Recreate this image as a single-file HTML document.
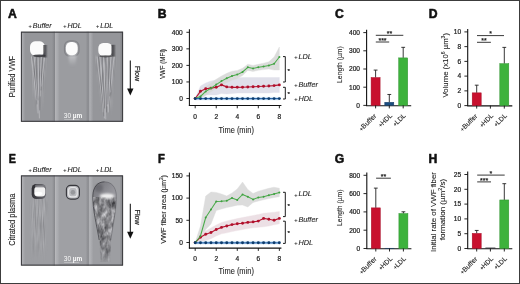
<!DOCTYPE html>
<html><head><meta charset="utf-8"><style>
html,body{margin:0;padding:0;background:#fff;width:520px;height:284px;overflow:hidden;}
svg{display:block;will-change:transform;}
text{stroke:#1e1e1e;stroke-width:0.22px;}
text.w{stroke:none;}
text.lt{stroke-width:0.1px;}
text.big{stroke:#111;stroke-width:0.55px;stroke-linejoin:round;}
</style></head><body>
<svg width="520" height="284" viewBox="0 0 520 284" font-family="Liberation Sans, sans-serif">
<defs>
<filter id="b03" x="-50%" y="-50%" width="200%" height="200%"><feGaussianBlur stdDeviation="0.3"/></filter>
<filter id="b05" x="-50%" y="-50%" width="200%" height="200%"><feGaussianBlur stdDeviation="0.5"/></filter>
<filter id="b08" x="-50%" y="-50%" width="200%" height="200%"><feGaussianBlur stdDeviation="0.8"/></filter>
<filter id="b12" x="-50%" y="-50%" width="200%" height="200%"><feGaussianBlur stdDeviation="1.2"/></filter>
<filter id="b2" x="-50%" y="-50%" width="200%" height="200%"><feGaussianBlur stdDeviation="2"/></filter>
<filter id="streakA" x="0" y="0" width="100%" height="100%" color-interpolation-filters="sRGB"><feTurbulence type="fractalNoise" baseFrequency="0.9 0.05" numOctaves="2" seed="7"/>
 <feColorMatrix type="matrix" values="0.8 0 0 0 0.23  0.8 0 0 0 0.23  0.8 0 0 0 0.245  0 0 0 0 1"/></filter>
<filter id="streakB" x="0" y="0" width="100%" height="100%" color-interpolation-filters="sRGB"><feTurbulence type="fractalNoise" baseFrequency="0.9 0.05" numOctaves="2" seed="11"/>
 <feColorMatrix type="matrix" values="0.8 0 0 0 0.23  0.8 0 0 0 0.23  0.8 0 0 0 0.245  0 0 0 0 1"/></filter>
<filter id="mottle" x="0" y="0" width="100%" height="100%" color-interpolation-filters="sRGB"><feTurbulence type="fractalNoise" baseFrequency="0.2 0.11" numOctaves="3" seed="4"/>
 <feColorMatrix type="matrix" values="0.95 0 0 0 0.06  0.95 0 0 0 0.06  0.95 0 0 0 0.075  0 0 0 0 1"/></filter>
<linearGradient id="edgeL" x1="0" x2="1" y1="0" y2="0"><stop offset="0" stop-color="#c4c5c9" stop-opacity="0.55"/><stop offset="1" stop-color="#c4c5c9" stop-opacity="0"/></linearGradient>
<linearGradient id="edgeR" x1="0" x2="1" y1="0" y2="0"><stop offset="0" stop-color="#6e6f74" stop-opacity="0"/><stop offset="1" stop-color="#6e6f74" stop-opacity="0.5"/></linearGradient>
<linearGradient id="shR" x1="0" x2="1" y1="0" y2="0"><stop offset="0" stop-color="#38383c" stop-opacity="0.9"/><stop offset="0.55" stop-color="#48484c" stop-opacity="0.7"/><stop offset="1" stop-color="#606064" stop-opacity="0"/></linearGradient>
<linearGradient id="bufE" x1="0" x2="1" y1="0" y2="0.3"><stop offset="0" stop-color="#2c2c30"/><stop offset="0.5" stop-color="#3e3e43"/><stop offset="1" stop-color="#606066"/></linearGradient>
<linearGradient id="tailH" x1="0" x2="0" y1="0" y2="1"><stop offset="0" stop-color="#c8c9cd" stop-opacity="0.9"/><stop offset="1" stop-color="#c8c9cd" stop-opacity="0"/></linearGradient>
<linearGradient id="fadeV" x1="0" x2="0" y1="0" y2="1"><stop offset="0" stop-color="#fff" stop-opacity="1"/><stop offset="0.7" stop-color="#fff" stop-opacity="0.8"/><stop offset="1" stop-color="#fff" stop-opacity="0"/></linearGradient>
<mask id="mBufA"><path d="M31 55 L46 55 L42.5 112 L35 112 Z" fill="url(#fadeV)" filter="url(#b12)"/></mask>
<mask id="mLdlA"><path d="M95.5 56 L115.5 56 L110.5 119 L102.5 119 Z" fill="url(#fadeV)" filter="url(#b12)"/></mask>
<mask id="mBufE"><path d="M30.5 198 L47 198 L45 262 L32 262 Z" fill="url(#fadeV)" filter="url(#b12)"/></mask>
<linearGradient id="fadeL" x1="0" x2="0" y1="0" y2="1"><stop offset="0" stop-color="#fff"/><stop offset="0.62" stop-color="#fff"/><stop offset="1" stop-color="#fff" stop-opacity="0.35"/></linearGradient>
<mask id="mLdlE"><path d="M93 197 C93 212 97 224 99.5 238 L100.3 262 L110.2 262 L110.8 238 C113.5 222 116.8 210 116.3 197 Z" fill="url(#fadeL)" filter="url(#b05)"/></mask>
<linearGradient id="domeG" x1="0" x2="1" y1="0" y2="1"><stop offset="0" stop-color="#6e6e74"/><stop offset="0.5" stop-color="#909096"/><stop offset="1" stop-color="#aaaaaf"/></linearGradient>
</defs>
<rect width="520" height="284" fill="#fff"/>
<text transform="translate(8.0,17.7) scale(1.0,1)" class="big" font-size="12.2" font-weight="bold" fill="#111">A</text>
<text transform="translate(157.7,17.7) scale(1.0,1)" class="big" font-size="12.2" font-weight="bold" fill="#111">B</text>
<text transform="translate(334.9,18.1) scale(1.0,1)" class="big" font-size="12.2" font-weight="bold" fill="#111">C</text>
<text transform="translate(428.7,17.7) scale(1.0,1)" class="big" font-size="12.2" font-weight="bold" fill="#111">D</text>
<text transform="translate(8.8,162.7) scale(0.88,1)" class="big" font-size="12.2" font-weight="bold" fill="#111">E</text>
<text transform="translate(157.9,163.2) scale(0.92,1)" class="big" font-size="12.2" font-weight="bold" fill="#111">F</text>
<text transform="translate(334.7,162.5) scale(1.0,1)" class="big" font-size="12.2" font-weight="bold" fill="#111">G</text>
<text transform="translate(428.5,162.7) scale(1.0,1)" class="big" font-size="12.2" font-weight="bold" fill="#111">H</text>
<rect x="21" y="31.6" width="34.5" height="90.3" fill="#95969a"/>
<rect x="21.6" y="31.6" width="3.6" height="90.3" fill="url(#edgeL)"/>
<rect x="52.0" y="31.6" width="3" height="90.3" fill="url(#edgeR)"/>
<rect x="55.5" y="31.6" width="33.7" height="90.3" fill="#9b9ca0"/>
<rect x="56.1" y="31.6" width="3.6" height="90.3" fill="url(#edgeL)"/>
<rect x="85.7" y="31.6" width="3" height="90.3" fill="url(#edgeR)"/>
<rect x="89.2" y="31.6" width="33.8" height="90.3" fill="#95969a"/>
<rect x="89.8" y="31.6" width="3.6" height="90.3" fill="url(#edgeL)"/>
<rect x="119.5" y="31.6" width="3" height="90.3" fill="url(#edgeR)"/>
<rect x="29" y="54" width="19" height="60" filter="url(#streakA)" mask="url(#mBufA)" opacity="0.45"/>
<polyline points="31.5,57 33,70 35,86 36.4,100" fill="none" stroke="#d0d0d4" stroke-width="0.7" opacity="0.75" stroke-linecap="round" filter="url(#b03)"/>
<polyline points="34.2,57 35.6,75 37,95 38,113" fill="none" stroke="#d0d0d4" stroke-width="0.7" opacity="0.75" stroke-linecap="round" filter="url(#b03)"/>
<polyline points="38.2,57 38.6,80 39,104 39.4,118" fill="none" stroke="#d0d0d4" stroke-width="0.7" opacity="0.75" stroke-linecap="round" filter="url(#b03)"/>
<polyline points="41.3,57 40.6,76 40.2,96" fill="none" stroke="#d0d0d4" stroke-width="0.7" opacity="0.75" stroke-linecap="round" filter="url(#b03)"/>
<polyline points="44.6,57 43.2,70 41.6,86" fill="none" stroke="#d0d0d4" stroke-width="0.7" opacity="0.75" stroke-linecap="round" filter="url(#b03)"/>
<polyline points="33,57 34.5,72 36,90 37,104" fill="none" stroke="#5c5c62" stroke-width="0.6" opacity="0.6" stroke-linecap="round" filter="url(#b03)"/>
<polyline points="36.6,57 37.1,80 38.1,100" fill="none" stroke="#5c5c62" stroke-width="0.6" opacity="0.6" stroke-linecap="round" filter="url(#b03)"/>
<polyline points="40,57 39.6,78 39.6,110" fill="none" stroke="#5c5c62" stroke-width="0.6" opacity="0.6" stroke-linecap="round" filter="url(#b03)"/>
<polyline points="43,57 42,70 41,90" fill="none" stroke="#5c5c62" stroke-width="0.6" opacity="0.6" stroke-linecap="round" filter="url(#b03)"/>
<rect x="30" y="41.3" width="14.9" height="14.2" rx="5" ry="5.5" fill="#fbfbfb" filter="url(#b05)"/>
<rect x="43.4" y="45" width="4.6" height="12.5" fill="url(#shR)" filter="url(#b05)"/>
<ellipse cx="39.4" cy="55.8" rx="6.4" ry="1.4" fill="#36363a" opacity="0.85" filter="url(#b05)"/>
<rect x="64.5" y="40.8" width="14.5" height="15.6" rx="5.5" fill="none" stroke="#6a6b70" stroke-width="1.2" opacity="0.5" filter="url(#b05)"/>
<path d="M68.3 54.5 L76.6 54.5 L75.4 66 L69.6 66 Z" fill="url(#tailH)" filter="url(#b08)"/>
<rect x="65.8" y="42" width="11.9" height="13.2" rx="5" ry="5.5" fill="#fcfcfc" filter="url(#b05)"/>
<rect x="93" y="55" width="25" height="66" filter="url(#streakB)" mask="url(#mLdlA)" opacity="0.45"/>
<polyline points="97,57 99,75 101.5,95 103.2,112" fill="none" stroke="#d0d0d4" stroke-width="0.7" opacity="0.75" stroke-linecap="round" filter="url(#b03)"/>
<polyline points="100,57 101.6,78 103.4,100 104.4,118" fill="none" stroke="#d0d0d4" stroke-width="0.7" opacity="0.75" stroke-linecap="round" filter="url(#b03)"/>
<polyline points="103.6,57 104.4,80 105.4,105 105.8,119" fill="none" stroke="#d0d0d4" stroke-width="0.7" opacity="0.75" stroke-linecap="round" filter="url(#b03)"/>
<polyline points="107.4,57 107.2,82 107,106" fill="none" stroke="#d0d0d4" stroke-width="0.7" opacity="0.75" stroke-linecap="round" filter="url(#b03)"/>
<polyline points="110.8,57 109.8,76 108.8,98 108.3,112" fill="none" stroke="#d0d0d4" stroke-width="0.7" opacity="0.75" stroke-linecap="round" filter="url(#b03)"/>
<polyline points="114,57 112.4,72 110.6,92" fill="none" stroke="#d0d0d4" stroke-width="0.7" opacity="0.75" stroke-linecap="round" filter="url(#b03)"/>
<polyline points="98.6,57 100.4,76 102.4,98 103.8,116" fill="none" stroke="#5c5c62" stroke-width="0.6" opacity="0.6" stroke-linecap="round" filter="url(#b03)"/>
<polyline points="102,57 103,80 104.6,108" fill="none" stroke="#5c5c62" stroke-width="0.6" opacity="0.6" stroke-linecap="round" filter="url(#b03)"/>
<polyline points="105.6,57 105.9,85 106.4,112" fill="none" stroke="#5c5c62" stroke-width="0.6" opacity="0.6" stroke-linecap="round" filter="url(#b03)"/>
<polyline points="109.2,57 108.6,80 107.8,104" fill="none" stroke="#5c5c62" stroke-width="0.6" opacity="0.6" stroke-linecap="round" filter="url(#b03)"/>
<polyline points="112.6,57 111.2,74 109.6,96" fill="none" stroke="#5c5c62" stroke-width="0.6" opacity="0.6" stroke-linecap="round" filter="url(#b03)"/>
<rect x="98.3" y="42.9" width="14" height="13.2" rx="4.8" ry="5.2" fill="#fbfbfb" filter="url(#b05)"/>
<rect x="111.5" y="44.8" width="4.8" height="11.8" fill="url(#shR)" filter="url(#b05)"/>
<ellipse cx="105.6" cy="56.3" rx="6.3" ry="1.1" fill="#3a3a3e" opacity="0.7" filter="url(#b05)"/>
<text class="w" x="63.8" y="118.3" font-size="6.5" fill="#fafafa"><tspan>30 </tspan><tspan font-weight="bold">µm</tspan></text>
<line x1="64.2" y1="119.7" x2="79.4" y2="119.7" stroke="#eee" stroke-width="0.6" opacity="0.7"/>
<rect x="21.4" y="32.2" width="101.2" height="89.1" fill="none" stroke="#3a3a3e" stroke-width="1.05" filter="url(#b03)"/>
<line x1="55.5" y1="31.6" x2="55.5" y2="121.9" stroke="#333336" stroke-width="1.3" filter="url(#b03)"/>
<line x1="89.2" y1="31.6" x2="89.2" y2="121.9" stroke="#333336" stroke-width="1.3" filter="url(#b03)"/>
<rect x="21" y="175.3" width="34.5" height="90.4" fill="#9d9ea2"/>
<rect x="21.6" y="175.3" width="3.6" height="90.4" fill="url(#edgeL)"/>
<rect x="52.0" y="175.3" width="3" height="90.4" fill="url(#edgeR)"/>
<rect x="55.5" y="175.3" width="33.7" height="90.4" fill="#9fa0a4"/>
<rect x="56.1" y="175.3" width="3.6" height="90.4" fill="url(#edgeL)"/>
<rect x="85.7" y="175.3" width="3" height="90.4" fill="url(#edgeR)"/>
<rect x="89.2" y="175.3" width="33.8" height="90.4" fill="#9d9ea2"/>
<rect x="89.8" y="175.3" width="3.6" height="90.4" fill="url(#edgeL)"/>
<rect x="119.5" y="175.3" width="3" height="90.4" fill="url(#edgeR)"/>
<rect x="29" y="197" width="20" height="66" filter="url(#streakA)" mask="url(#mBufE)" opacity="0.3"/>
<rect x="31.7" y="184" width="14.1" height="15" rx="4.5" fill="url(#bufE)" filter="url(#b05)"/>
<rect x="34.3" y="186.4" width="11" height="10.2" rx="3.5" fill="#f2f2f2" filter="url(#b05)"/>
<ellipse cx="38.5" cy="193.6" rx="3.8" ry="1.8" fill="#ffffff" filter="url(#b05)"/>
<rect x="35" y="184.4" width="10" height="3" rx="1.5" fill="#8a8a8f" opacity="0.7" filter="url(#b05)"/>
<rect x="66.4" y="185.3" width="13" height="13.8" rx="4.3" fill="#b9babe" stroke="#38383e" stroke-width="1.15" filter="url(#b03)"/>
<rect x="68.6" y="187.5" width="8.6" height="9.4" rx="3" fill="none" stroke="#e6e6e8" stroke-width="1.1" filter="url(#b03)"/>
<ellipse cx="72.9" cy="192.2" rx="2.3" ry="2.5" fill="#8f9094" opacity="0.8" filter="url(#b05)"/>
<path d="M104.5 181.8 C97.5 181.8 93 187 92.8 196 C92.7 202 94 206 95 209 L114.5 209 C115.8 204 116.6 200 116.3 195 C115.8 187 111.5 181.8 104.5 181.8 Z" fill="url(#domeG)" filter="url(#b03)"/>
<rect x="90" y="196" width="30" height="68" filter="url(#mottle)" mask="url(#mLdlE)"/>
<ellipse cx="107" cy="196" rx="7.2" ry="2.6" fill="#f6f6f6" opacity="0.95" filter="url(#b08)"/>
<ellipse cx="99" cy="188" rx="4" ry="4" fill="#5a5a60" opacity="0.5" filter="url(#b12)"/>
<path d="M104.5 181.8 C97.5 181.8 93 187 92.8 196 C92.7 210 96.5 224 99.2 240" fill="none" stroke="#2e2e33" stroke-width="0.9" opacity="0.7" filter="url(#b03)"/>
<path d="M104.5 181.8 C111.5 181.8 115.8 187 116.3 195 C116.7 207 113.5 222 110.8 240" fill="none" stroke="#3a3a3f" stroke-width="0.7" opacity="0.45" filter="url(#b03)"/>
<text class="w" x="63.8" y="261.3" font-size="6.5" fill="#fafafa"><tspan>30 </tspan><tspan font-weight="bold">µm</tspan></text>
<line x1="64.2" y1="262.5" x2="79.2" y2="262.5" stroke="#eee" stroke-width="0.6" opacity="0.6"/>
<rect x="21.4" y="175.9" width="101.2" height="89.2" fill="none" stroke="#3a3a3e" stroke-width="1.05" filter="url(#b03)"/>
<line x1="55.5" y1="175.3" x2="55.5" y2="265.70000000000005" stroke="#333336" stroke-width="1.3" filter="url(#b03)"/>
<line x1="89.2" y1="175.3" x2="89.2" y2="265.70000000000005" stroke="#333336" stroke-width="1.3" filter="url(#b03)"/>
<text class="lt" x="28.6" y="28.1" font-size="7.1" fill="#1e1e1e"><tspan font-size="5.54" dy="0.1">+</tspan><tspan dx="0.9" dy="-0.1" font-style="italic">Buffer</tspan></text>
<text class="lt" x="63.3" y="28.1" font-size="7.1" fill="#1e1e1e"><tspan font-size="5.54" dy="0.1">+</tspan><tspan dx="0.9" dy="-0.1" font-style="italic">HDL</tspan></text>
<text class="lt" x="96.1" y="28.1" font-size="7.1" fill="#1e1e1e"><tspan font-size="5.54" dy="0.1">+</tspan><tspan dx="0.9" dy="-0.1" font-style="italic">LDL</tspan></text>
<text class="lt" x="28.6" y="171.6" font-size="7.1" fill="#1e1e1e"><tspan font-size="5.54" dy="0.1">+</tspan><tspan dx="0.9" dy="-0.1" font-style="italic">Buffer</tspan></text>
<text class="lt" x="63.3" y="171.6" font-size="7.1" fill="#1e1e1e"><tspan font-size="5.54" dy="0.1">+</tspan><tspan dx="0.9" dy="-0.1" font-style="italic">HDL</tspan></text>
<text class="lt" x="96.1" y="171.6" font-size="7.1" fill="#1e1e1e"><tspan font-size="5.54" dy="0.1">+</tspan><tspan dx="0.9" dy="-0.1" font-style="italic">LDL</tspan></text>
<text class="lt" transform="translate(14.6,76.6) rotate(-90) scale(0.831,1)" text-anchor="middle" font-size="8.5" fill="#1e1e1e">Purified VWF</text>
<text class="lt" transform="translate(15.2,219.8) rotate(-90) scale(0.877,1)" text-anchor="middle" font-size="8.5" fill="#1e1e1e">Citrated plasma</text>
<line x1="130.3" y1="60.4" x2="130.3" y2="89.9" stroke="#111" stroke-width="1.05"/>
<path d="M127.1 88.4 L133.5 88.4 L130.3 95.4 Z" fill="#111"/>
<text transform="translate(135.4,73.7) rotate(90) scale(1.06,1)" text-anchor="middle" font-size="6.8" fill="#1e1e1e">Flow</text>
<line x1="130.3" y1="203.8" x2="130.3" y2="233.3" stroke="#111" stroke-width="1.05"/>
<path d="M127.1 231.8 L133.5 231.8 L130.3 238.8 Z" fill="#111"/>
<text transform="translate(135.4,217.10000000000002) rotate(90) scale(1.06,1)" text-anchor="middle" font-size="6.8" fill="#1e1e1e">Flow</text>
<polygon points="195.20,98.50 200.46,86.00 205.72,83.00 210.98,81.00 216.24,80.00 221.50,78.00 226.76,78.00 232.02,78.00 237.28,77.80 242.54,77.60 247.80,77.50 253.06,77.50 258.32,77.50 263.58,77.50 268.84,77.50 274.10,77.50 279.36,77.50 279.36,92.50 274.10,92.50 268.84,93.00 263.58,93.00 258.32,93.00 253.06,93.00 247.80,93.00 242.54,93.00 237.28,93.00 232.02,93.50 226.76,94.00 221.50,93.50 216.24,95.00 210.98,95.00 205.72,95.00 200.46,96.00 195.20,98.50" fill="#e0e0ea" opacity="1" stroke="#e0e0ea" stroke-width="0.4" stroke-linejoin="round"/>
<polygon points="195.20,98.50 200.46,92.50 205.72,86.50 210.98,83.00 216.24,79.30 221.50,76.00 226.76,73.30 232.02,71.20 237.28,70.40 242.54,68.30 247.80,64.20 253.06,65.40 258.32,64.30 263.58,63.20 268.84,61.80 274.10,57.00 279.36,47.00 279.36,70.00 274.10,70.00 268.84,69.00 263.58,69.60 258.32,70.30 253.06,71.50 247.80,70.40 242.54,75.60 237.28,78.60 232.02,80.20 226.76,82.80 221.50,85.50 216.24,88.60 210.98,91.80 205.72,95.50 200.46,99.00 195.20,98.50" fill="#d8d9d8" opacity="0.9" stroke="#d8d9d8" stroke-width="0.4" stroke-linejoin="round"/>
<polygon points="195.20,97.20 200.46,97.20 205.72,97.20 210.98,97.20 216.24,97.20 221.50,97.20 226.76,97.20 232.02,97.20 237.28,97.20 242.54,97.20 247.80,97.20 253.06,97.20 258.32,97.20 263.58,97.20 268.84,97.20 274.10,97.20 279.36,97.20 279.36,100.00 274.10,100.00 268.84,100.00 263.58,100.00 258.32,100.00 253.06,100.00 247.80,100.00 242.54,100.00 237.28,100.00 232.02,100.00 226.76,100.00 221.50,100.00 216.24,100.00 210.98,100.00 205.72,100.00 200.46,100.00 195.20,100.00" fill="#cfe3f3" opacity="1" stroke="#cfe3f3" stroke-width="0.4" stroke-linejoin="round"/>
<polyline points="195.20,98.50 200.46,91.30 205.72,88.80 210.98,88.10 216.24,87.30 221.50,84.90 226.76,86.90 232.02,87.30 237.28,87.30 242.54,87.20 247.80,87.00 253.06,86.80 258.32,86.50 263.58,86.20 268.84,86.00 274.10,85.60 279.36,84.90" fill="none" stroke="#b8142f" stroke-width="1.15" stroke-linejoin="round"/>
<circle cx="195.20" cy="98.50" r="1.45" fill="#b0102c"/>
<circle cx="200.46" cy="91.30" r="1.45" fill="#b0102c"/>
<circle cx="205.72" cy="88.80" r="1.45" fill="#b0102c"/>
<circle cx="210.98" cy="88.10" r="1.45" fill="#b0102c"/>
<circle cx="216.24" cy="87.30" r="1.45" fill="#b0102c"/>
<circle cx="221.50" cy="84.90" r="1.45" fill="#b0102c"/>
<circle cx="226.76" cy="86.90" r="1.45" fill="#b0102c"/>
<circle cx="232.02" cy="87.30" r="1.45" fill="#b0102c"/>
<circle cx="237.28" cy="87.30" r="1.45" fill="#b0102c"/>
<circle cx="242.54" cy="87.20" r="1.45" fill="#b0102c"/>
<circle cx="247.80" cy="87.00" r="1.45" fill="#b0102c"/>
<circle cx="253.06" cy="86.80" r="1.45" fill="#b0102c"/>
<circle cx="258.32" cy="86.50" r="1.45" fill="#b0102c"/>
<circle cx="263.58" cy="86.20" r="1.45" fill="#b0102c"/>
<circle cx="268.84" cy="86.00" r="1.45" fill="#b0102c"/>
<circle cx="274.10" cy="85.60" r="1.45" fill="#b0102c"/>
<circle cx="279.36" cy="84.90" r="1.45" fill="#b0102c"/>
<polyline points="195.20,98.50 200.46,96.50 205.72,91.40 210.98,88.20 216.24,84.60 221.50,81.10 226.76,78.30 232.02,75.90 237.28,74.60 242.54,72.00 247.80,67.30 253.06,68.50 258.32,67.30 263.58,66.40 268.84,65.50 274.10,63.70 279.36,57.00" fill="none" stroke="#4aac4a" stroke-width="1.05" stroke-linejoin="round"/>
<circle cx="195.20" cy="98.50" r="1.0" fill="#3f9f40"/>
<circle cx="200.46" cy="96.50" r="1.0" fill="#3f9f40"/>
<circle cx="205.72" cy="91.40" r="1.0" fill="#3f9f40"/>
<circle cx="210.98" cy="88.20" r="1.0" fill="#3f9f40"/>
<circle cx="216.24" cy="84.60" r="1.0" fill="#3f9f40"/>
<circle cx="221.50" cy="81.10" r="1.0" fill="#3f9f40"/>
<circle cx="226.76" cy="78.30" r="1.0" fill="#3f9f40"/>
<circle cx="232.02" cy="75.90" r="1.0" fill="#3f9f40"/>
<circle cx="237.28" cy="74.60" r="1.0" fill="#3f9f40"/>
<circle cx="242.54" cy="72.00" r="1.0" fill="#3f9f40"/>
<circle cx="247.80" cy="67.30" r="1.0" fill="#3f9f40"/>
<circle cx="253.06" cy="68.50" r="1.0" fill="#3f9f40"/>
<circle cx="258.32" cy="67.30" r="1.0" fill="#3f9f40"/>
<circle cx="263.58" cy="66.40" r="1.0" fill="#3f9f40"/>
<circle cx="268.84" cy="65.50" r="1.0" fill="#3f9f40"/>
<circle cx="274.10" cy="63.70" r="1.0" fill="#3f9f40"/>
<circle cx="279.36" cy="57.00" r="1.0" fill="#3f9f40"/>
<polyline points="195.20,98.60 200.46,98.60 205.72,98.60 210.98,98.60 216.24,98.60 221.50,98.60 226.76,98.60 232.02,98.60 237.28,98.60 242.54,98.60 247.80,98.60 253.06,98.60 258.32,98.60 263.58,98.60 268.84,98.60 274.10,98.60 279.36,98.60" fill="none" stroke="#2a68b0" stroke-width="1.2" stroke-linejoin="round"/>
<circle cx="195.20" cy="98.60" r="1.45" fill="#0d3b6b"/>
<circle cx="200.46" cy="98.60" r="1.45" fill="#0d3b6b"/>
<circle cx="205.72" cy="98.60" r="1.45" fill="#0d3b6b"/>
<circle cx="210.98" cy="98.60" r="1.45" fill="#0d3b6b"/>
<circle cx="216.24" cy="98.60" r="1.45" fill="#0d3b6b"/>
<circle cx="221.50" cy="98.60" r="1.45" fill="#0d3b6b"/>
<circle cx="226.76" cy="98.60" r="1.45" fill="#0d3b6b"/>
<circle cx="232.02" cy="98.60" r="1.45" fill="#0d3b6b"/>
<circle cx="237.28" cy="98.60" r="1.45" fill="#0d3b6b"/>
<circle cx="242.54" cy="98.60" r="1.45" fill="#0d3b6b"/>
<circle cx="247.80" cy="98.60" r="1.45" fill="#0d3b6b"/>
<circle cx="253.06" cy="98.60" r="1.45" fill="#0d3b6b"/>
<circle cx="258.32" cy="98.60" r="1.45" fill="#0d3b6b"/>
<circle cx="263.58" cy="98.60" r="1.45" fill="#0d3b6b"/>
<circle cx="268.84" cy="98.60" r="1.45" fill="#0d3b6b"/>
<circle cx="274.10" cy="98.60" r="1.45" fill="#0d3b6b"/>
<circle cx="279.36" cy="98.60" r="1.45" fill="#0d3b6b"/>
<line x1="189.4" y1="29.3" x2="189.4" y2="106.0" stroke="#111" stroke-width="1.05"/>
<line x1="188.9" y1="105.5" x2="281.4" y2="105.5" stroke="#111" stroke-width="1.05"/>
<line x1="186.4" y1="98.5" x2="189.4" y2="98.5" stroke="#111" stroke-width="0.9"/>
<text x="182.8" y="100.8" text-anchor="end" font-size="6.6" fill="#1e1e1e">0</text>
<line x1="186.4" y1="81.95" x2="189.4" y2="81.95" stroke="#111" stroke-width="0.9"/>
<text x="182.8" y="84.25" text-anchor="end" font-size="6.6" fill="#1e1e1e">100</text>
<line x1="186.4" y1="65.4" x2="189.4" y2="65.4" stroke="#111" stroke-width="0.9"/>
<text x="182.8" y="67.7" text-anchor="end" font-size="6.6" fill="#1e1e1e">200</text>
<line x1="186.4" y1="48.85" x2="189.4" y2="48.85" stroke="#111" stroke-width="0.9"/>
<text x="182.8" y="51.15" text-anchor="end" font-size="6.6" fill="#1e1e1e">300</text>
<line x1="186.4" y1="32.3" x2="189.4" y2="32.3" stroke="#111" stroke-width="0.9"/>
<text x="182.8" y="34.599999999999994" text-anchor="end" font-size="6.6" fill="#1e1e1e">400</text>
<line x1="195.2" y1="105.5" x2="195.2" y2="108.3" stroke="#111" stroke-width="0.9"/>
<text x="195.2" y="118.6" text-anchor="middle" font-size="6.6" fill="#1e1e1e">0</text>
<line x1="216.23999999999998" y1="105.5" x2="216.23999999999998" y2="108.3" stroke="#111" stroke-width="0.9"/>
<text x="216.23999999999998" y="118.6" text-anchor="middle" font-size="6.6" fill="#1e1e1e">2</text>
<line x1="237.27999999999997" y1="105.5" x2="237.27999999999997" y2="108.3" stroke="#111" stroke-width="0.9"/>
<text x="237.27999999999997" y="118.6" text-anchor="middle" font-size="6.6" fill="#1e1e1e">4</text>
<line x1="258.32" y1="105.5" x2="258.32" y2="108.3" stroke="#111" stroke-width="0.9"/>
<text x="258.32" y="118.6" text-anchor="middle" font-size="6.6" fill="#1e1e1e">6</text>
<line x1="279.36" y1="105.5" x2="279.36" y2="108.3" stroke="#111" stroke-width="0.9"/>
<text x="279.36" y="118.6" text-anchor="middle" font-size="6.6" fill="#1e1e1e">8</text>
<text class="lt" transform="translate(236.2,132.5) scale(0.868,1)" text-anchor="middle" font-size="8.6" fill="#1e1e1e">Time (min)</text>
<polygon points="195.20,242.60 200.46,226.00 205.72,196.00 210.98,192.00 216.24,192.40 221.50,194.00 226.76,196.00 232.02,193.00 237.28,189.00 242.54,182.00 247.80,189.50 253.06,193.50 258.32,191.30 263.58,189.70 268.84,188.30 274.10,187.20 279.36,188.30 279.36,196.70 274.10,197.60 268.84,198.60 263.58,199.80 258.32,201.00 253.06,202.50 247.80,207.00 242.54,205.00 237.28,205.20 232.02,206.40 226.76,207.60 221.50,209.00 216.24,210.50 210.98,224.00 205.72,229.50 200.46,241.00 195.20,242.60" fill="#dcdcdc" opacity="1" stroke="#dcdcdc" stroke-width="0.4" stroke-linejoin="round"/>
<polygon points="195.20,242.60 200.46,234.00 205.72,231.00 210.98,228.00 216.24,225.00 221.50,222.50 226.76,221.00 232.02,219.80 237.28,218.60 242.54,217.60 247.80,216.50 253.06,215.50 258.32,214.50 263.58,213.30 268.84,212.80 274.10,212.20 279.36,211.60 279.36,223.80 274.10,224.80 268.84,226.00 263.58,226.80 258.32,227.30 253.06,227.80 247.80,228.60 242.54,229.60 237.28,230.60 232.02,231.60 226.76,232.80 221.50,233.80 216.24,236.00 210.98,238.70 205.72,240.50 200.46,242.00 195.20,242.60" fill="#ecdfe4" opacity="0.95" stroke="#ecdfe4" stroke-width="0.4" stroke-linejoin="round"/>
<polygon points="195.20,241.30 200.46,241.30 205.72,241.30 210.98,241.30 216.24,241.30 221.50,241.30 226.76,241.30 232.02,241.30 237.28,241.30 242.54,241.30 247.80,241.30 253.06,241.30 258.32,241.30 263.58,241.30 268.84,241.30 274.10,241.30 279.36,241.30 279.36,244.10 274.10,244.10 268.84,244.10 263.58,244.10 258.32,244.10 253.06,244.10 247.80,244.10 242.54,244.10 237.28,244.10 232.02,244.10 226.76,244.10 221.50,244.10 216.24,244.10 210.98,244.10 205.72,244.10 200.46,244.10 195.20,244.10" fill="#cfe3f3" opacity="1" stroke="#cfe3f3" stroke-width="0.4" stroke-linejoin="round"/>
<polyline points="195.20,242.60 200.46,237.20 205.72,234.20 210.98,232.50 216.24,229.50 221.50,227.40 226.76,226.00 232.02,224.60 237.28,223.80 242.54,223.20 247.80,222.40 253.06,221.90 258.32,221.10 263.58,218.40 268.84,219.20 274.10,220.30 279.36,218.40" fill="none" stroke="#b8142f" stroke-width="1.15" stroke-linejoin="round"/>
<circle cx="195.20" cy="242.60" r="1.45" fill="#b0102c"/>
<circle cx="200.46" cy="237.20" r="1.45" fill="#b0102c"/>
<circle cx="205.72" cy="234.20" r="1.45" fill="#b0102c"/>
<circle cx="210.98" cy="232.50" r="1.45" fill="#b0102c"/>
<circle cx="216.24" cy="229.50" r="1.45" fill="#b0102c"/>
<circle cx="221.50" cy="227.40" r="1.45" fill="#b0102c"/>
<circle cx="226.76" cy="226.00" r="1.45" fill="#b0102c"/>
<circle cx="232.02" cy="224.60" r="1.45" fill="#b0102c"/>
<circle cx="237.28" cy="223.80" r="1.45" fill="#b0102c"/>
<circle cx="242.54" cy="223.20" r="1.45" fill="#b0102c"/>
<circle cx="247.80" cy="222.40" r="1.45" fill="#b0102c"/>
<circle cx="253.06" cy="221.90" r="1.45" fill="#b0102c"/>
<circle cx="258.32" cy="221.10" r="1.45" fill="#b0102c"/>
<circle cx="263.58" cy="218.40" r="1.45" fill="#b0102c"/>
<circle cx="268.84" cy="219.20" r="1.45" fill="#b0102c"/>
<circle cx="274.10" cy="220.30" r="1.45" fill="#b0102c"/>
<circle cx="279.36" cy="218.40" r="1.45" fill="#b0102c"/>
<polyline points="195.20,242.60 200.46,236.00 205.72,217.50 210.98,209.50 216.24,201.50 221.50,201.30 226.76,200.80 232.02,198.00 237.28,199.90 242.54,194.50 247.80,196.70 253.06,199.40 258.32,197.50 263.58,196.70 268.84,195.30 274.10,194.00 279.36,192.60" fill="none" stroke="#4aac4a" stroke-width="1.05" stroke-linejoin="round"/>
<circle cx="195.20" cy="242.60" r="1.0" fill="#3f9f40"/>
<circle cx="200.46" cy="236.00" r="1.0" fill="#3f9f40"/>
<circle cx="205.72" cy="217.50" r="1.0" fill="#3f9f40"/>
<circle cx="210.98" cy="209.50" r="1.0" fill="#3f9f40"/>
<circle cx="216.24" cy="201.50" r="1.0" fill="#3f9f40"/>
<circle cx="221.50" cy="201.30" r="1.0" fill="#3f9f40"/>
<circle cx="226.76" cy="200.80" r="1.0" fill="#3f9f40"/>
<circle cx="232.02" cy="198.00" r="1.0" fill="#3f9f40"/>
<circle cx="237.28" cy="199.90" r="1.0" fill="#3f9f40"/>
<circle cx="242.54" cy="194.50" r="1.0" fill="#3f9f40"/>
<circle cx="247.80" cy="196.70" r="1.0" fill="#3f9f40"/>
<circle cx="253.06" cy="199.40" r="1.0" fill="#3f9f40"/>
<circle cx="258.32" cy="197.50" r="1.0" fill="#3f9f40"/>
<circle cx="263.58" cy="196.70" r="1.0" fill="#3f9f40"/>
<circle cx="268.84" cy="195.30" r="1.0" fill="#3f9f40"/>
<circle cx="274.10" cy="194.00" r="1.0" fill="#3f9f40"/>
<circle cx="279.36" cy="192.60" r="1.0" fill="#3f9f40"/>
<polyline points="195.20,242.80 200.46,242.80 205.72,242.80 210.98,242.80 216.24,242.80 221.50,242.80 226.76,242.80 232.02,242.80 237.28,242.80 242.54,242.80 247.80,242.80 253.06,242.80 258.32,242.80 263.58,242.80 268.84,242.80 274.10,242.80 279.36,242.80" fill="none" stroke="#2a68b0" stroke-width="1.2" stroke-linejoin="round"/>
<circle cx="195.20" cy="242.80" r="1.45" fill="#0d3b6b"/>
<circle cx="200.46" cy="242.80" r="1.45" fill="#0d3b6b"/>
<circle cx="205.72" cy="242.80" r="1.45" fill="#0d3b6b"/>
<circle cx="210.98" cy="242.80" r="1.45" fill="#0d3b6b"/>
<circle cx="216.24" cy="242.80" r="1.45" fill="#0d3b6b"/>
<circle cx="221.50" cy="242.80" r="1.45" fill="#0d3b6b"/>
<circle cx="226.76" cy="242.80" r="1.45" fill="#0d3b6b"/>
<circle cx="232.02" cy="242.80" r="1.45" fill="#0d3b6b"/>
<circle cx="237.28" cy="242.80" r="1.45" fill="#0d3b6b"/>
<circle cx="242.54" cy="242.80" r="1.45" fill="#0d3b6b"/>
<circle cx="247.80" cy="242.80" r="1.45" fill="#0d3b6b"/>
<circle cx="253.06" cy="242.80" r="1.45" fill="#0d3b6b"/>
<circle cx="258.32" cy="242.80" r="1.45" fill="#0d3b6b"/>
<circle cx="263.58" cy="242.80" r="1.45" fill="#0d3b6b"/>
<circle cx="268.84" cy="242.80" r="1.45" fill="#0d3b6b"/>
<circle cx="274.10" cy="242.80" r="1.45" fill="#0d3b6b"/>
<circle cx="279.36" cy="242.80" r="1.45" fill="#0d3b6b"/>
<line x1="189.4" y1="172.6" x2="189.4" y2="248.6" stroke="#111" stroke-width="1.05"/>
<line x1="188.9" y1="248.1" x2="281.4" y2="248.1" stroke="#111" stroke-width="1.05"/>
<line x1="186.4" y1="242.5" x2="189.4" y2="242.5" stroke="#111" stroke-width="0.9"/>
<text x="182.8" y="244.8" text-anchor="end" font-size="6.6" fill="#1e1e1e">0</text>
<line x1="186.4" y1="220.3" x2="189.4" y2="220.3" stroke="#111" stroke-width="0.9"/>
<text x="182.8" y="222.60000000000002" text-anchor="end" font-size="6.6" fill="#1e1e1e">50</text>
<line x1="186.4" y1="198.1" x2="189.4" y2="198.1" stroke="#111" stroke-width="0.9"/>
<text x="182.8" y="200.4" text-anchor="end" font-size="6.6" fill="#1e1e1e">100</text>
<line x1="186.4" y1="175.9" x2="189.4" y2="175.9" stroke="#111" stroke-width="0.9"/>
<text x="182.8" y="178.20000000000002" text-anchor="end" font-size="6.6" fill="#1e1e1e">150</text>
<line x1="195.2" y1="248.1" x2="195.2" y2="250.9" stroke="#111" stroke-width="0.9"/>
<text x="195.2" y="261.2" text-anchor="middle" font-size="6.6" fill="#1e1e1e">0</text>
<line x1="216.23999999999998" y1="248.1" x2="216.23999999999998" y2="250.9" stroke="#111" stroke-width="0.9"/>
<text x="216.23999999999998" y="261.2" text-anchor="middle" font-size="6.6" fill="#1e1e1e">2</text>
<line x1="237.27999999999997" y1="248.1" x2="237.27999999999997" y2="250.9" stroke="#111" stroke-width="0.9"/>
<text x="237.27999999999997" y="261.2" text-anchor="middle" font-size="6.6" fill="#1e1e1e">4</text>
<line x1="258.32" y1="248.1" x2="258.32" y2="250.9" stroke="#111" stroke-width="0.9"/>
<text x="258.32" y="261.2" text-anchor="middle" font-size="6.6" fill="#1e1e1e">6</text>
<line x1="279.36" y1="248.1" x2="279.36" y2="250.9" stroke="#111" stroke-width="0.9"/>
<text x="279.36" y="261.2" text-anchor="middle" font-size="6.6" fill="#1e1e1e">8</text>
<text class="lt" transform="translate(236.2,274.1) scale(0.868,1)" text-anchor="middle" font-size="8.6" fill="#1e1e1e">Time (min)</text>
<path d="M283.0 56.6 H285.3 V82 H283.0" fill="none" stroke="#111" stroke-width="0.95"/>
<path d="M283.0 87.3 H285.3 V99 H283.0" fill="none" stroke="#111" stroke-width="0.95"/>
<text x="288.8" y="73.2" text-anchor="middle" font-size="6.2" fill="#111">*</text>
<text x="288.8" y="96.3" text-anchor="middle" font-size="6.2" fill="#111">*</text>
<text class="lt" x="294.2" y="58.6" font-size="7.3" fill="#1e1e1e"><tspan font-size="5.69" dy="0.1">+</tspan><tspan dx="0.9" dy="-0.1" font-style="italic">LDL</tspan></text>
<text class="lt" x="294.2" y="86.8" font-size="7.3" fill="#1e1e1e"><tspan font-size="5.69" dy="0.1">+</tspan><tspan dx="0.9" dy="-0.1" font-style="italic">Buffer</tspan></text>
<text class="lt" x="294.2" y="100.7" font-size="7.3" fill="#1e1e1e"><tspan font-size="5.69" dy="0.1">+</tspan><tspan dx="0.9" dy="-0.1" font-style="italic">HDL</tspan></text>
<path d="M283.0 192.3 H285.3 V216.6 H283.0" fill="none" stroke="#111" stroke-width="0.95"/>
<path d="M283.0 221.2 H285.3 V243.4 H283.0" fill="none" stroke="#111" stroke-width="0.95"/>
<text x="288.8" y="207.9" text-anchor="middle" font-size="6.2" fill="#111">*</text>
<text x="288.8" y="235.0" text-anchor="middle" font-size="6.2" fill="#111">*</text>
<text class="lt" x="294.2" y="196.4" font-size="7.3" fill="#1e1e1e"><tspan font-size="5.69" dy="0.1">+</tspan><tspan dx="0.9" dy="-0.1" font-style="italic">LDL</tspan></text>
<text class="lt" x="294.2" y="221.6" font-size="7.3" fill="#1e1e1e"><tspan font-size="5.69" dy="0.1">+</tspan><tspan dx="0.9" dy="-0.1" font-style="italic">Buffer</tspan></text>
<text class="lt" x="294.2" y="244.9" font-size="7.3" fill="#1e1e1e"><tspan font-size="5.69" dy="0.1">+</tspan><tspan dx="0.9" dy="-0.1" font-style="italic">HDL</tspan></text>
<text class="lt" transform="translate(164.9,64.1) rotate(-90) scale(0.830,1)" text-anchor="middle" font-size="7.4" fill="#1e1e1e">VWF (MFI)</text>
<text class="lt" transform="translate(166.1,209.4) rotate(-90) scale(0.937,1)" text-anchor="middle" font-size="7.8" fill="#1e1e1e">VWF fiber area (µm<tspan font-size="5.07" dy="-3.12">2</tspan><tspan dy="3.12">)</tspan></text>
<line x1="366.6" y1="29.70000000000001" x2="366.6" y2="105.9" stroke="#111" stroke-width="1.1"/>
<line x1="366.1" y1="105.7" x2="411.20000000000005" y2="105.7" stroke="#111" stroke-width="1.1"/>
<line x1="363.3" y1="105.4" x2="366.6" y2="105.4" stroke="#111" stroke-width="0.9"/>
<text x="360.0" y="107.7" text-anchor="end" font-size="6.6" fill="#1e1e1e">0</text>
<line x1="363.3" y1="87.2" x2="366.6" y2="87.2" stroke="#111" stroke-width="0.9"/>
<text x="360.0" y="89.5" text-anchor="end" font-size="6.6" fill="#1e1e1e">100</text>
<line x1="363.3" y1="69.0" x2="366.6" y2="69.0" stroke="#111" stroke-width="0.9"/>
<text x="360.0" y="71.3" text-anchor="end" font-size="6.6" fill="#1e1e1e">200</text>
<line x1="363.3" y1="50.800000000000004" x2="366.6" y2="50.800000000000004" stroke="#111" stroke-width="0.9"/>
<text x="360.0" y="53.1" text-anchor="end" font-size="6.6" fill="#1e1e1e">300</text>
<line x1="363.3" y1="32.60000000000001" x2="366.6" y2="32.60000000000001" stroke="#111" stroke-width="0.9"/>
<text x="360.0" y="34.900000000000006" text-anchor="end" font-size="6.6" fill="#1e1e1e">400</text>
<line x1="375.6" y1="70.09200000000001" x2="375.6" y2="77.554" stroke="#222" stroke-width="0.9"/>
<line x1="373.70000000000005" y1="70.09200000000001" x2="377.5" y2="70.09200000000001" stroke="#222" stroke-width="0.9"/>
<rect x="371.1" y="77.554" width="9" height="27.846000000000004" fill="#c8102e" stroke="#a50d27" stroke-width="0.5"/>
<line x1="375.6" y1="105.4" x2="375.6" y2="108.4" stroke="#111" stroke-width="0.9"/>
<text class="lt" transform="translate(376.90000000000003,116.30000000000001) rotate(-45) scale(1.04,1)" text-anchor="end" font-size="6.7" fill="#1e1e1e"><tspan font-size="5.3" dy="-0.2">+</tspan><tspan dy="0.2">Buffer</tspan></text>
<line x1="389.3" y1="94.48" x2="389.3" y2="102.30600000000001" stroke="#222" stroke-width="0.9"/>
<line x1="387.40000000000003" y1="94.48" x2="391.2" y2="94.48" stroke="#222" stroke-width="0.9"/>
<rect x="384.8" y="102.30600000000001" width="9" height="3.093999999999994" fill="#1b4d80" stroke="#143b63" stroke-width="0.5"/>
<line x1="389.3" y1="105.4" x2="389.3" y2="108.4" stroke="#111" stroke-width="0.9"/>
<text class="lt" transform="translate(392.6,116.0) rotate(-45) scale(1.0,1)" text-anchor="end" font-size="6.7" fill="#1e1e1e"><tspan font-size="5.3" dy="-0.2">+</tspan><tspan dy="0.2">HDL</tspan></text>
<line x1="403.20000000000005" y1="47.342000000000006" x2="403.20000000000005" y2="57.89800000000001" stroke="#222" stroke-width="0.9"/>
<line x1="401.30000000000007" y1="47.342000000000006" x2="405.1" y2="47.342000000000006" stroke="#222" stroke-width="0.9"/>
<rect x="398.70000000000005" y="57.89800000000001" width="9" height="47.501999999999995" fill="#3db23c" stroke="#2e922e" stroke-width="0.5"/>
<line x1="403.20000000000005" y1="105.4" x2="403.20000000000005" y2="108.4" stroke="#111" stroke-width="0.9"/>
<text class="lt" transform="translate(406.20000000000005,116.0) rotate(-45) scale(1.0,1)" text-anchor="end" font-size="6.7" fill="#1e1e1e"><tspan font-size="5.3" dy="-0.2">+</tspan><tspan dy="0.2">LDL</tspan></text>
<line x1="375.8" y1="35.3" x2="403.3" y2="35.3" stroke="#222" stroke-width="0.9"/>
<text x="389.55" y="36.0" text-anchor="middle" font-size="7" fill="#111">**</text>
<line x1="375.8" y1="42" x2="389.2" y2="42" stroke="#222" stroke-width="0.9"/>
<text x="382.5" y="42.7" text-anchor="middle" font-size="7" fill="#111">***</text>
<text class="lt" transform="translate(341.7,64.6) rotate(-90) scale(0.890,1)" text-anchor="middle" font-size="7.6" fill="#1e1e1e">Length (µm)</text>
<line x1="467.7" y1="28.999999999999993" x2="467.7" y2="106.1" stroke="#111" stroke-width="1.1"/>
<line x1="467.2" y1="105.89999999999999" x2="512.3" y2="105.89999999999999" stroke="#111" stroke-width="1.1"/>
<line x1="464.4" y1="105.6" x2="467.7" y2="105.6" stroke="#111" stroke-width="0.9"/>
<text x="461.09999999999997" y="107.89999999999999" text-anchor="end" font-size="6.6" fill="#1e1e1e">0</text>
<line x1="464.4" y1="90.86" x2="467.7" y2="90.86" stroke="#111" stroke-width="0.9"/>
<text x="461.09999999999997" y="93.16" text-anchor="end" font-size="6.6" fill="#1e1e1e">2</text>
<line x1="464.4" y1="76.11999999999999" x2="467.7" y2="76.11999999999999" stroke="#111" stroke-width="0.9"/>
<text x="461.09999999999997" y="78.41999999999999" text-anchor="end" font-size="6.6" fill="#1e1e1e">4</text>
<line x1="464.4" y1="61.379999999999995" x2="467.7" y2="61.379999999999995" stroke="#111" stroke-width="0.9"/>
<text x="461.09999999999997" y="63.67999999999999" text-anchor="end" font-size="6.6" fill="#1e1e1e">6</text>
<line x1="464.4" y1="46.63999999999999" x2="467.7" y2="46.63999999999999" stroke="#111" stroke-width="0.9"/>
<text x="461.09999999999997" y="48.93999999999999" text-anchor="end" font-size="6.6" fill="#1e1e1e">8</text>
<line x1="464.4" y1="31.89999999999999" x2="467.7" y2="31.89999999999999" stroke="#111" stroke-width="0.9"/>
<text x="461.09999999999997" y="34.19999999999999" text-anchor="end" font-size="6.6" fill="#1e1e1e">10</text>
<line x1="476.7" y1="85.18509999999999" x2="476.7" y2="92.84989999999999" stroke="#222" stroke-width="0.9"/>
<line x1="474.8" y1="85.18509999999999" x2="478.59999999999997" y2="85.18509999999999" stroke="#222" stroke-width="0.9"/>
<rect x="472.2" y="92.84989999999999" width="9" height="12.750100000000003" fill="#c8102e" stroke="#a50d27" stroke-width="0.5"/>
<line x1="476.7" y1="105.6" x2="476.7" y2="108.6" stroke="#111" stroke-width="0.9"/>
<text class="lt" transform="translate(478.0,116.5) rotate(-45) scale(1.04,1)" text-anchor="end" font-size="6.7" fill="#1e1e1e"><tspan font-size="5.3" dy="-0.2">+</tspan><tspan dy="0.2">Buffer</tspan></text>
<line x1="490.4" y1="105.6" x2="490.4" y2="108.6" stroke="#111" stroke-width="0.9"/>
<text class="lt" transform="translate(493.7,116.19999999999999) rotate(-45) scale(1.0,1)" text-anchor="end" font-size="6.7" fill="#1e1e1e"><tspan font-size="5.3" dy="-0.2">+</tspan><tspan dy="0.2">HDL</tspan></text>
<line x1="504.3" y1="47.37699999999999" x2="504.3" y2="63.66469999999999" stroke="#222" stroke-width="0.9"/>
<line x1="502.40000000000003" y1="47.37699999999999" x2="506.2" y2="47.37699999999999" stroke="#222" stroke-width="0.9"/>
<rect x="499.8" y="63.66469999999999" width="9" height="41.935300000000005" fill="#3db23c" stroke="#2e922e" stroke-width="0.5"/>
<line x1="504.3" y1="105.6" x2="504.3" y2="108.6" stroke="#111" stroke-width="0.9"/>
<text class="lt" transform="translate(507.3,116.19999999999999) rotate(-45) scale(1.0,1)" text-anchor="end" font-size="6.7" fill="#1e1e1e"><tspan font-size="5.3" dy="-0.2">+</tspan><tspan dy="0.2">LDL</tspan></text>
<line x1="477" y1="35.6" x2="504" y2="35.6" stroke="#222" stroke-width="0.9"/>
<text x="490.5" y="36.300000000000004" text-anchor="middle" font-size="7" fill="#111">*</text>
<line x1="477" y1="42.3" x2="490.9" y2="42.3" stroke="#222" stroke-width="0.9"/>
<text x="483.95" y="43.0" text-anchor="middle" font-size="7" fill="#111">**</text>
<text class="lt" transform="translate(448.0,65.2) rotate(-90) scale(1.036,1)" text-anchor="middle" font-size="7.5" fill="#1e1e1e">Volume (x10<tspan font-size="4.88" dy="-3.00">6</tspan><tspan dy="3.00"> µm</tspan><tspan font-size="4.88" dy="-3.00">3</tspan><tspan dy="3.00">)</tspan></text>
<line x1="366.8" y1="172.4" x2="366.8" y2="249.0" stroke="#111" stroke-width="1.1"/>
<line x1="366.3" y1="248.8" x2="411.40000000000003" y2="248.8" stroke="#111" stroke-width="1.1"/>
<line x1="363.5" y1="248.5" x2="366.8" y2="248.5" stroke="#111" stroke-width="0.9"/>
<text x="360.2" y="250.8" text-anchor="end" font-size="6.6" fill="#1e1e1e">0</text>
<line x1="363.5" y1="230.2" x2="366.8" y2="230.2" stroke="#111" stroke-width="0.9"/>
<text x="360.2" y="232.5" text-anchor="end" font-size="6.6" fill="#1e1e1e">200</text>
<line x1="363.5" y1="211.9" x2="366.8" y2="211.9" stroke="#111" stroke-width="0.9"/>
<text x="360.2" y="214.20000000000002" text-anchor="end" font-size="6.6" fill="#1e1e1e">400</text>
<line x1="363.5" y1="193.6" x2="366.8" y2="193.6" stroke="#111" stroke-width="0.9"/>
<text x="360.2" y="195.9" text-anchor="end" font-size="6.6" fill="#1e1e1e">600</text>
<line x1="363.5" y1="175.3" x2="366.8" y2="175.3" stroke="#111" stroke-width="0.9"/>
<text x="360.2" y="177.60000000000002" text-anchor="end" font-size="6.6" fill="#1e1e1e">800</text>
<line x1="375.8" y1="188.11" x2="375.8" y2="207.874" stroke="#222" stroke-width="0.9"/>
<line x1="373.90000000000003" y1="188.11" x2="377.7" y2="188.11" stroke="#222" stroke-width="0.9"/>
<rect x="371.3" y="207.874" width="9" height="40.626000000000005" fill="#c8102e" stroke="#a50d27" stroke-width="0.5"/>
<line x1="375.8" y1="248.5" x2="375.8" y2="251.5" stroke="#111" stroke-width="0.9"/>
<text class="lt" transform="translate(377.1,259.4) rotate(-45) scale(1.04,1)" text-anchor="end" font-size="6.7" fill="#1e1e1e"><tspan font-size="5.3" dy="-0.2">+</tspan><tspan dy="0.2">Buffer</tspan></text>
<rect x="385.0" y="248.2255" width="9" height="0.2744999999999891" fill="#1b4d80" stroke="#143b63" stroke-width="0.5"/>
<line x1="389.5" y1="248.5" x2="389.5" y2="251.5" stroke="#111" stroke-width="0.9"/>
<text class="lt" transform="translate(392.8,259.1) rotate(-45) scale(1.0,1)" text-anchor="end" font-size="6.7" fill="#1e1e1e"><tspan font-size="5.3" dy="-0.2">+</tspan><tspan dy="0.2">HDL</tspan></text>
<line x1="403.40000000000003" y1="211.8085" x2="403.40000000000003" y2="213.547" stroke="#222" stroke-width="0.9"/>
<line x1="401.50000000000006" y1="211.8085" x2="405.3" y2="211.8085" stroke="#222" stroke-width="0.9"/>
<rect x="398.90000000000003" y="213.547" width="9" height="34.953" fill="#3db23c" stroke="#2e922e" stroke-width="0.5"/>
<line x1="403.40000000000003" y1="248.5" x2="403.40000000000003" y2="251.5" stroke="#111" stroke-width="0.9"/>
<text class="lt" transform="translate(406.40000000000003,259.1) rotate(-45) scale(1.0,1)" text-anchor="end" font-size="6.7" fill="#1e1e1e"><tspan font-size="5.3" dy="-0.2">+</tspan><tspan dy="0.2">LDL</tspan></text>
<line x1="376.1" y1="178.2" x2="390.9" y2="178.2" stroke="#222" stroke-width="0.9"/>
<text x="383.5" y="178.89999999999998" text-anchor="middle" font-size="7" fill="#111">**</text>
<text class="lt" transform="translate(341.9,207.8) rotate(-90) scale(0.890,1)" text-anchor="middle" font-size="7.6" fill="#1e1e1e">Length (µm)</text>
<line x1="467.7" y1="171.6" x2="467.7" y2="249.0" stroke="#111" stroke-width="1.1"/>
<line x1="467.2" y1="248.8" x2="512.3" y2="248.8" stroke="#111" stroke-width="1.1"/>
<line x1="464.4" y1="248.5" x2="467.7" y2="248.5" stroke="#111" stroke-width="0.9"/>
<text x="461.09999999999997" y="250.8" text-anchor="end" font-size="6.6" fill="#1e1e1e">0</text>
<line x1="464.4" y1="233.7" x2="467.7" y2="233.7" stroke="#111" stroke-width="0.9"/>
<text x="461.09999999999997" y="236.0" text-anchor="end" font-size="6.6" fill="#1e1e1e">5</text>
<line x1="464.4" y1="218.9" x2="467.7" y2="218.9" stroke="#111" stroke-width="0.9"/>
<text x="461.09999999999997" y="221.20000000000002" text-anchor="end" font-size="6.6" fill="#1e1e1e">10</text>
<line x1="464.4" y1="204.1" x2="467.7" y2="204.1" stroke="#111" stroke-width="0.9"/>
<text x="461.09999999999997" y="206.4" text-anchor="end" font-size="6.6" fill="#1e1e1e">15</text>
<line x1="464.4" y1="189.3" x2="467.7" y2="189.3" stroke="#111" stroke-width="0.9"/>
<text x="461.09999999999997" y="191.60000000000002" text-anchor="end" font-size="6.6" fill="#1e1e1e">20</text>
<line x1="464.4" y1="174.5" x2="467.7" y2="174.5" stroke="#111" stroke-width="0.9"/>
<text x="461.09999999999997" y="176.8" text-anchor="end" font-size="6.6" fill="#1e1e1e">25</text>
<line x1="476.7" y1="230.44400000000002" x2="476.7" y2="233.404" stroke="#222" stroke-width="0.9"/>
<line x1="474.8" y1="230.44400000000002" x2="478.59999999999997" y2="230.44400000000002" stroke="#222" stroke-width="0.9"/>
<rect x="472.2" y="233.404" width="9" height="15.096000000000004" fill="#c8102e" stroke="#a50d27" stroke-width="0.5"/>
<line x1="476.7" y1="248.5" x2="476.7" y2="251.5" stroke="#111" stroke-width="0.9"/>
<text class="lt" transform="translate(478.0,259.4) rotate(-45) scale(1.04,1)" text-anchor="end" font-size="6.7" fill="#1e1e1e"><tspan font-size="5.3" dy="-0.2">+</tspan><tspan dy="0.2">Buffer</tspan></text>
<rect x="485.4" y="247.6" width="10" height="0.9" fill="#2a2a30"/>
<line x1="490.4" y1="248.5" x2="490.4" y2="251.5" stroke="#111" stroke-width="0.9"/>
<text class="lt" transform="translate(493.7,259.1) rotate(-45) scale(1.0,1)" text-anchor="end" font-size="6.7" fill="#1e1e1e"><tspan font-size="5.3" dy="-0.2">+</tspan><tspan dy="0.2">HDL</tspan></text>
<line x1="504.3" y1="183.676" x2="504.3" y2="199.95600000000002" stroke="#222" stroke-width="0.9"/>
<line x1="502.40000000000003" y1="183.676" x2="506.2" y2="183.676" stroke="#222" stroke-width="0.9"/>
<rect x="499.8" y="199.95600000000002" width="9" height="48.54399999999998" fill="#3db23c" stroke="#2e922e" stroke-width="0.5"/>
<line x1="504.3" y1="248.5" x2="504.3" y2="251.5" stroke="#111" stroke-width="0.9"/>
<text class="lt" transform="translate(507.3,259.1) rotate(-45) scale(1.0,1)" text-anchor="end" font-size="6.7" fill="#1e1e1e"><tspan font-size="5.3" dy="-0.2">+</tspan><tspan dy="0.2">LDL</tspan></text>
<line x1="477.2" y1="175.1" x2="504.7" y2="175.1" stroke="#222" stroke-width="0.9"/>
<text x="490.95" y="175.79999999999998" text-anchor="middle" font-size="7" fill="#111">*</text>
<line x1="477.2" y1="181.9" x2="491" y2="181.9" stroke="#222" stroke-width="0.9"/>
<text x="484.1" y="182.6" text-anchor="middle" font-size="7" fill="#111">***</text>
<text class="lt" transform="translate(436.0,212.0) rotate(-90) scale(1.035,1)" text-anchor="middle" font-size="7.6" fill="#1e1e1e">Initial rate of VWF fiber</text>
<text class="lt" transform="translate(445.0,209.6) rotate(-90) scale(1.056,1)" text-anchor="middle" font-size="7.6" fill="#1e1e1e">formation (µm<tspan font-size="4.94" dy="-3.04">2</tspan><tspan dy="3.04">/s)</tspan></text>
<rect x="0.5" y="0.5" width="519" height="283" fill="none" stroke="#3c3c3c" stroke-width="1"/>
</svg>
</body></html>
